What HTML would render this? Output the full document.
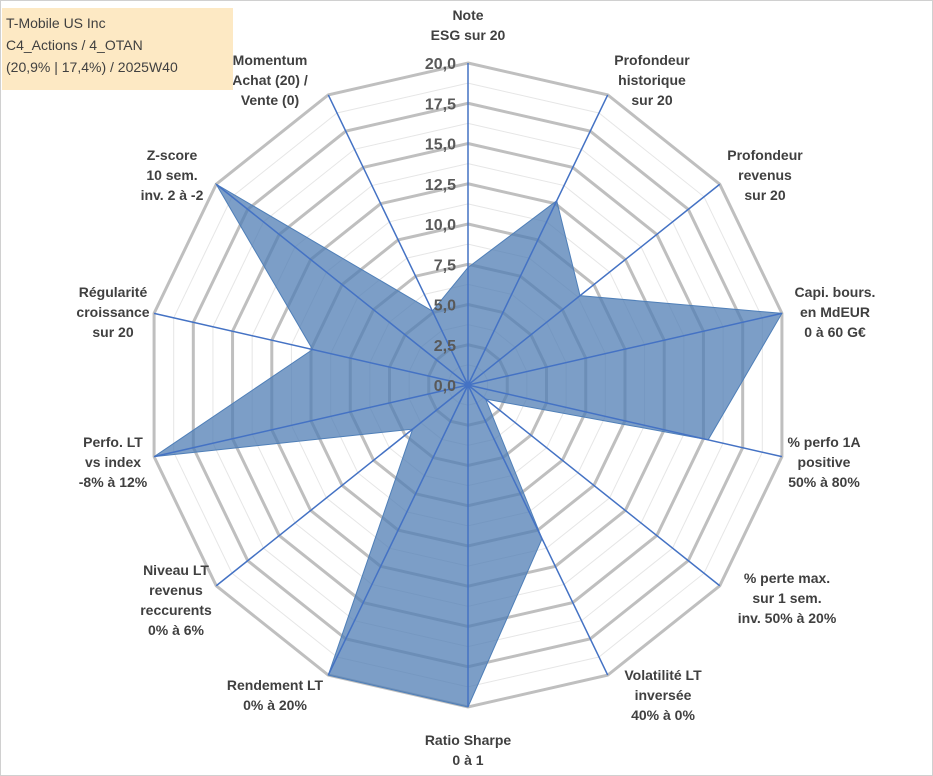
<!DOCTYPE html>
<html><head><meta charset="utf-8"><style>
body{margin:0;background:#fff;}
#wrap{position:relative;width:933px;height:776px;overflow:hidden;background:#fff;}
#frame{position:absolute;left:0;top:0;width:931px;height:774px;border:1px solid #d0d0d0;}
#title{position:absolute;left:2px;top:8px;width:231px;height:82px;background:#fde9c4;font-family:"Liberation Sans",sans-serif;font-size:14px;color:#404040;line-height:22px;padding:4px 0 0 4px;box-sizing:border-box;}
svg{position:absolute;left:0;top:0;}
text{font-family:"Liberation Sans",sans-serif;}
</style></head><body>
<div id="wrap">
<div id="frame"></div>
<svg id="chart" width="933" height="776"></svg>
<div id="title">T-Mobile US Inc<br>C4_Actions / 4_OTAN<br>(20,9% | 17,4%) / 2025W40</div>
</div>
<script>
const categories=[["Note","ESG sur 20"],["Profondeur","historique","sur 20"],["Profondeur","revenus","sur 20"],["Capi. bours.","en MdEUR","0 à 60 G€"],["% perfo 1A","positive","50% à 80%"],["% perte max.","sur 1 sem.","inv. 50% à 20%"],["Volatilité LT","inversée","40% à 0%"],["Ratio Sharpe","0 à 1"],["Rendement LT","0% à 20%"],["Niveau LT","revenus","reccurents","0% à 6%"],["Perfo. LT","vs index","-8% à 12%"],["Régularité","croissance","sur 20"],["Z-score","10 sem.","inv. 2 à -2"],["Momentum","Achat (20) /","Vente (0)"]];
const values=[7.3,12.7,8.9,20,15.3,1.4,10.6,20,20,4.4,20,9.9,20,5.1];
const tickLabels=["0,0","2,5","5,0","7,5","10,0","12,5","15,0","17,5","20,0"];
const tickValues=[0,2.5,5,7.5,10,12.5,15,17.5,20];
const labelPos=[[468,15],[652,60],[765,155],[835,292],[824,442],[787,578],[663,675],[468,740],[275,685],[176,570],[113,442],[113,292],[172,155],[270,60]];
const NS="http://www.w3.org/2000/svg";
const svg=document.getElementById('chart');
const cx=468,cy=385,R=322,maxV=20,N=categories.length;
function ang(i){return i*2*Math.PI/N;}
function pt(i,v){const r=v/maxV*R;return [cx+r*Math.sin(ang(i)),cy-r*Math.cos(ang(i))];}
function mk(tag,attrs){const e=document.createElementNS(NS,tag);for(const k in attrs)e.setAttribute(k,attrs[k]);svg.appendChild(e);return e;}
for(let v=1.25;v<=20;v+=2.5){
 const p=mk('polygon',{points:categories.map((c,i)=>pt(i,v).join(',')).join(' '),fill:'none',stroke:'#e6e6e6','stroke-width':1});
 
 
}
tickValues.forEach(v=>{if(v===0)return;
 const p=mk('polygon',{points:categories.map((c,i)=>pt(i,v).join(',')).join(' '),fill:'none',stroke:'#bfbfbf','stroke-width':3});
 
 
});
const area=mk('polygon',{points:values.map((v,i)=>pt(i,v).join(',')).join(' '),fill:'rgba(80,126,180,0.75)',stroke:'#4f7fb8','stroke-width':1});


categories.forEach((c,i)=>{const e=pt(i,maxV);
 const l=mk('line',{x1:cx,y1:cy,x2:e[0],y2:e[1],stroke:'#4472c4','stroke-width':1.5});
 
 
});
mk('circle',{cx:cx,cy:cy,r:3,fill:'#4472c4'});
tickValues.forEach((v,k)=>{const p=pt(0,v);
 const t=mk('text',{x:cx-12,y:p[1]+6,'text-anchor':'end','font-size':16,'font-weight':'bold',fill:'#595959'});
 t.textContent=tickLabels[k];
 
 
});
categories.forEach((c,i)=>{const [x,y]=labelPos[i];
 const t=mk('text',{x:x,y:y+5,'text-anchor':'middle','font-size':14,'font-weight':'bold',fill:'#404040'});
 
 
 c.forEach((line,j)=>{const s=document.createElementNS(NS,'tspan');s.setAttribute('x',x);s.setAttribute('dy',j?20:0);s.textContent=line;t.appendChild(s);});
});
</script>
</body></html>
